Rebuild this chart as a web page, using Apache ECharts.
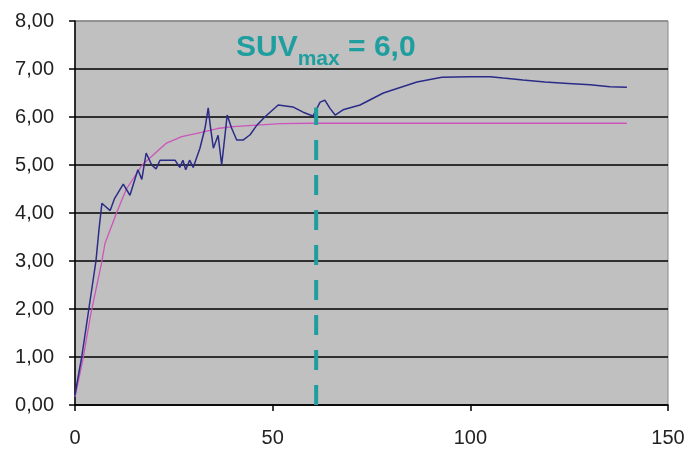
<!DOCTYPE html>
<html><head><meta charset="utf-8">
<script src="https://cdn.jsdelivr.net/npm/echarts@6/dist/echarts.min.js"></script>
<style>html,body{margin:0;padding:0;background:#fff}#c{width:689px;height:450px}</style>
</head><body><div id="c"></div>
<script>
const measured = [[0,0.2],[0.5,0.45],[1.7,1.0],[3.5,2.0],[5.3,3.0],[6,3.6],[6.8,4.2],[7.5,4.15],[8.9,4.05],[10,4.3],[12.2,4.6],[13.9,4.37],[15.9,4.9],[16.9,4.7],[18,5.25],[19.4,5.0],[20.5,4.92],[21.5,5.1],[25.3,5.1],[26.5,4.95],[27.3,5.1],[28,4.9],[29,5.1],[29.9,4.95],[31.6,5.35],[32.9,5.77],[33.7,6.19],[34.2,5.83],[35,5.35],[36.2,5.62],[37.1,5.0],[38.5,6.04],[39.6,5.77],[40.9,5.52],[42.5,5.52],[44.3,5.63],[46,5.83],[48,6.0],[51.4,6.25],[55.1,6.21],[57.7,6.1],[60.2,6.02],[62,6.31],[63.2,6.35],[64.5,6.18],[65.8,6.04],[67.8,6.15],[72.1,6.25],[78,6.5],[86.5,6.73],[92.8,6.83],[100,6.84],[105,6.84],[108.3,6.81],[113.3,6.77],[118.9,6.73],[124.7,6.7],[130.3,6.67],[135.3,6.63],[139.6,6.62]];
const fitted = [[0,0.17],[2,0.95],[4,1.9],[6.7,2.95],[7.6,3.37],[10.5,4.0],[13,4.5],[17,5.0],[19,5.15],[23,5.45],[27,5.59],[32,5.68],[36,5.76],[40,5.8],[46,5.83],[52,5.86],[60,5.87],[80,5.87],[100,5.87],[120,5.87],[139.6,5.87]];
const suvMarker = [[61,0],[61,6.2]];
const xTicks = [0,50,100,150];
const yTicks = [0,1,2,3,4,5,6,7,8];
const annotation = 'SUV|max| = 6,0';

const parts = annotation.split('|');
const chart = echarts.init(document.getElementById('c'));
const lblFont = {fontFamily:'Liberation Sans, Arial, sans-serif', fontSize:20, color:'#222'};
chart.setOption({
  animation:false,
  backgroundColor:'#fff',
  title:{
    text:'{a|'+parts[0]+'}{b|'+parts[1]+'}{a|'+parts[2]+'}',
    left:231, top:22,
    textStyle:{rich:{
      a:{fontFamily:'Liberation Sans, Arial, sans-serif',fontWeight:'bold',fontSize:30,color:'#1E9E9E',verticalAlign:'bottom',lineHeight:36},
      b:{fontFamily:'Liberation Sans, Arial, sans-serif',fontWeight:'bold',fontSize:21,color:'#1E9E9E',verticalAlign:'bottom',lineHeight:36,padding:[0,0,-7,0]}
    }}
  },
  grid:{left:75,right:21,top:21,bottom:45,show:true,backgroundColor:'#c0c0c0',borderColor:'#888',borderWidth:1},
  xAxis:{type:'value',min:xTicks[0],max:xTicks[xTicks.length-1],interval:50,
    axisLine:{show:true,onZero:false,lineStyle:{color:'#000',width:1.5}},
    axisTick:{show:true,length:6,lineStyle:{color:'#000',width:1.5}},
    axisLabel:Object.assign({margin:23},lblFont),
    splitLine:{show:false}},
  yAxis:{type:'value',min:yTicks[0],max:yTicks[yTicks.length-1],interval:1,
    axisLine:{show:true,lineStyle:{color:'#000',width:1.5}},
    axisTick:{show:true,length:6,lineStyle:{color:'#000',width:1.5}},
    axisLabel:Object.assign({margin:21,formatter:v=>v.toFixed(2).replace('.',',')},lblFont),
    splitLine:{show:true,lineStyle:{color:['#000','#000','#000','#000','#000','#000','#000','#000','#888'],width:1.5}}},
  series:[
    {type:'line',data:fitted,showSymbol:false,lineStyle:{color:'#CC55BB',width:1.3},z:3},
    {type:'line',data:measured,showSymbol:false,lineStyle:{color:'#2B2B88',width:1.5},z:4},
    {type:'line',data:suvMarker,showSymbol:false,lineStyle:{color:'#1E9E9E',width:4,type:[20,15]},z:5}
  ]
});
</script></body></html>
